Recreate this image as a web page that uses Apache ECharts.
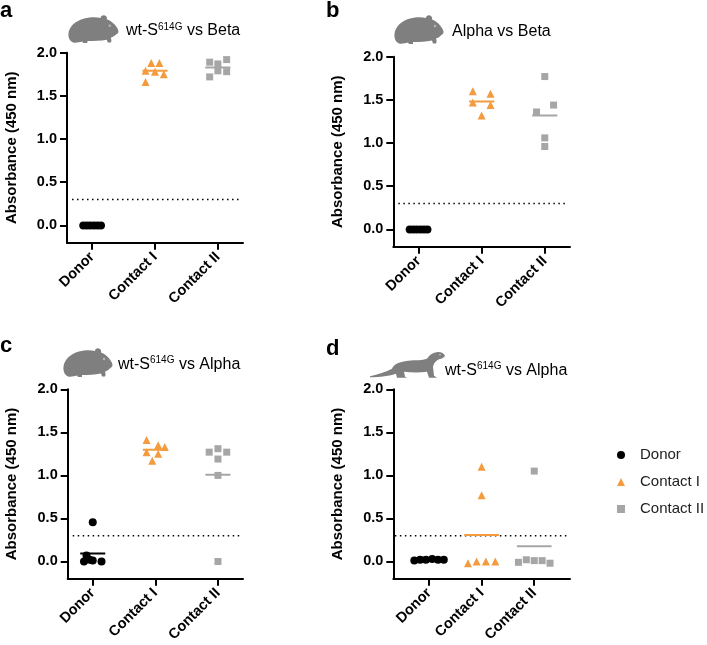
<!DOCTYPE html>
<html>
<head>
<meta charset="utf-8">
<script src="https://cdn.jsdelivr.net/npm/echarts@6/dist/echarts.min.js"></script>
<style>
  html, body { margin: 0; padding: 0; background: #fff; }
  #chart { width: 707px; height: 645px; }
</style>
</head>
<body>
<div id="chart"></div>
<script>
// ---------- data ----------
const categories = ['Donor', 'Contact I', 'Contact II'];
const yTicks = [0, 0.5, 1.0, 1.5, 2.0];
const cutoff = 0.3;

// panel a : wt-S614G vs Beta (hamster)
const aDonor     = [0.0, 0.0, 0.0, 0.0, 0.0, 0.0];
const aDonorX    = [-0.14, -0.085, -0.03, 0.03, 0.085, 0.14];
const aContact1  = [1.88, 1.88, 1.79, 1.78, 1.75, 1.66];
const aContact1X = [-0.06, 0.07, -0.15, 0.0, 0.14, -0.15];
const aContact2  = [1.89, 1.87, 1.92, 1.79, 1.78, 1.72];
const aContact2X = [-0.13, 0.0, 0.14, 0.0, 0.14, -0.13];

// panel b : Alpha vs Beta (hamster)
const bDonor     = [0.0, 0.0, 0.0, 0.0, 0.0, 0.0];
const bDonorX    = [-0.14, -0.085, -0.03, 0.03, 0.085, 0.14];
const bContact1  = [1.60, 1.57, 1.47, 1.44, 1.32];
const bContact1X = [-0.14, 0.14, -0.14, 0.14, 0.0];
const bContact2  = [1.77, 1.36, 1.44, 1.06, 0.96];
const bContact2X = [0.0, -0.13, 0.14, 0.0, 0.0];

// panel c : wt-S614G vs Alpha (hamster)
const cDonor     = [0.455, 0.07, 0.02, 0.0, 0.01, 0.0];
const cDonorX    = [0.0, -0.1, -0.05, -0.14, 0.0, 0.14];
const cContact1  = [1.41, 1.35, 1.33, 1.27, 1.25, 1.17];
const cContact1X = [-0.14, 0.045, 0.15, -0.14, 0.045, -0.05];
const cContact2  = [1.27, 1.31, 1.27, 1.19, 1.00, 0.0];
const cContact2X = [-0.14, 0.0, 0.14, 0.0, 0.0, 0.0];

// panel d : wt-S614G vs Alpha (ferret)
const dDonor     = [0.01, 0.02, 0.02, 0.03, 0.02, 0.02];
const dDonorX    = [-0.28, -0.17, -0.06, 0.06, 0.17, 0.28];
const dContact1  = [1.10, 0.77, -0.02, 0.0, 0.0, 0.0];
const dContact1X = [0.0, 0.0, -0.26, -0.095, 0.08, 0.26];
const dContact2  = [1.05, -0.01, 0.02, 0.01, 0.01, -0.02];
const dContact2X = [0.0, -0.3, -0.15, 0.0, 0.15, 0.3];

// ---------- layout / style ----------
const COLORS = ['#000000', '#F39B3E', '#A6A6A6'];
const SYMBOLS = ['circle', 'triangle', 'rect'];
const SIZES = [8, 8, 7];
const grids = [
  { left: 67,    top: 52.7,  width: 176,   height: 190 },
  { left: 393.3, top: 56.7,  width: 176.7, height: 190 },
  { left: 67.7,  top: 389.3, width: 175.3, height: 189.4 },
  { left: 393.3, top: 389.3, width: 176.7, height: 189.4 }
];
const xRanges = [[-0.4, 2.4], [-0.4, 2.4], [-0.4, 2.4], [-0.68, 2.68]];
const cutoffSpan = [[-0.32, 2.35], [-0.32, 2.35], [-0.32, 2.35], [-0.65, 2.62]];
const meanHalf = [0.2, 0.2, 0.2, 0.33];

const panels = [
  { vals: [aDonor, aContact1, aContact2], xs: [aDonorX, aContact1X, aContact2X] },
  { vals: [bDonor, bContact1, bContact2], xs: [bDonorX, bContact1X, bContact2X] },
  { vals: [cDonor, cContact1, cContact2], xs: [cDonorX, cContact1X, cContact2X] },
  { vals: [dDonor, dContact1, dContact2], xs: [dDonorX, dContact1X, dContact2X] }
];

const mean = arr => arr.reduce((s, v) => s + v, 0) / arr.length;

const FONT = 'Liberation Sans, Arial, sans-serif';
const xAxes = [], yAxes = [], series = [];
grids.forEach((g, i) => {
  xAxes.push({
    type: 'value', gridIndex: i, min: xRanges[i][0], max: xRanges[i][1],
    splitLine: { show: false },
    axisLine: { show: true, onZero: false, lineStyle: { color: '#000', width: 2 } },
    axisTick: { show: true, length: 7, lineStyle: { color: '#000', width: 2 }, customValues: [0, 1, 2] },
    axisLabel: {
      customValues: [0, 1, 2], rotate: 45, margin: 12,
      formatter: v => categories[Math.round(v)],
      fontFamily: FONT, fontWeight: 'bold', fontSize: 14.5, color: '#000'
    }
  });
  yAxes.push({
    type: 'value', gridIndex: i, min: -0.2, max: 2.0,
    name: 'Absorbance (450 nm)', nameLocation: 'middle', nameGap: 48,
    nameTextStyle: { fontFamily: FONT, fontWeight: 'bold', fontSize: 15, color: '#000' },
    splitLine: { show: false },
    axisLine: { show: true, onZero: false, lineStyle: { color: '#000', width: 2 } },
    axisTick: { show: true, length: 7, lineStyle: { color: '#000', width: 2 }, customValues: yTicks },
    axisLabel: {
      customValues: yTicks, margin: 10,
      formatter: v => v.toFixed(1),
      fontFamily: FONT, fontWeight: 'bold', fontSize: 14.5, color: '#000'
    }
  });
  series.push({
    type: 'line', xAxisIndex: i, yAxisIndex: i, silent: true, symbol: 'none', z: 1,
    data: [[cutoffSpan[i][0], cutoff], [cutoffSpan[i][1], cutoff]],
    lineStyle: { color: '#000', width: 1.5, type: [1.5, 3.5] }
  });
  panels[i].vals.forEach((vals, k) => {
    const m = mean(vals);
    series.push({
      type: 'line', xAxisIndex: i, yAxisIndex: i, silent: true, symbol: 'none', z: 2,
      data: [[k - meanHalf[i], m], [k + meanHalf[i], m]],
      lineStyle: { color: COLORS[k], width: 2 }
    });
    series.push({
      type: 'scatter', name: categories[k], xAxisIndex: i, yAxisIndex: i, z: 3,
      symbol: SYMBOLS[k], symbolSize: SIZES[k],
      itemStyle: { color: COLORS[k], opacity: 1 },
      data: vals.map((v, j) => [k + panels[i].xs[k][j], v])
    });
  });
});

// ---------- decorations ----------
const hamsterPath = 'M10,57 C3,54 0,46 1,38 C2,24 14,12 32,7 C44,4 56,4 64,6 C64,2 68,0 72,1 C76,2 77,6 76,9 C86,13 94,21 98,30 C100,34 99,38 95,40 C92,43 88,46 84,47 C85,50 86,54 84,57 L78,57 L76,51 C64,53 50,54 38,54 L38,58 L30,58 L28,55 C22,57 15,58 10,57 Z';
const ferretPath = 'M0,24.5 C8,23 16,20 22,17 C24,12 30,10 38,9 C46,8 52,9 57,7 C59,4 62,1 67,0.5 C71,0 74,2 75,4 C74,6 72,7 69,7.5 C66,9 64,11 63,15 L64,24 L67,26 L59,26 L57,20 C50,21 42,21 34,20 L35,25 L37,26 L27,26 L26,22 C20,24 10,25.5 0,25.5 Z';
const svgURI = (p, vw, vh, eye) => 'data:image/svg+xml;charset=utf-8,' + encodeURIComponent(
  '<svg xmlns="http://www.w3.org/2000/svg" viewBox="0 0 ' + vw + ' ' + vh + '" preserveAspectRatio="none" width="' + vw + '" height="' + vh + '"><path d="' + p + '" fill="#7F7F7F"/><circle cx="' + eye[0] + '" cy="' + eye[1] + '" r="' + eye[2] + '" fill="#B5B5B5"/></svg>');
const animal = (uri, x, y, w, h) => ({
  type: 'image', silent: true,
  style: { image: uri, x: x, y: y, width: w, height: h }
});
const letter = (t, x, y) => ({
  type: 'text', x: x, y: y,
  style: { text: t, fontFamily: FONT, fontWeight: 'bold', fontSize: 22, fill: '#000', align: 'left', verticalAlign: 'middle' }
});
const RICH = {
  n: { fontFamily: FONT, fontSize: 16, lineHeight: 18, fill: '#000', verticalAlign: 'middle' },
  s: { fontFamily: FONT, fontSize: 10, lineHeight: 10, fill: '#000', verticalAlign: 'top' }
};
const title = (t, x, y) => ({
  type: 'text', x: x, y: y,
  style: { text: t, rich: RICH, align: 'left', verticalAlign: 'middle' }
});
const hamsterURI = svgURI(hamsterPath, 100, 60, [82, 22, 2.5]);
const ferretURI = svgURI(ferretPath, 75, 27, [70, 3, 0.9]);

const option = {
  animation: false,
  backgroundColor: '#fff',
  grid: grids.map(g => Object.assign({ containLabel: false }, g)),
  xAxis: xAxes,
  yAxis: yAxes,
  series: series,
  legend: {
    data: categories, orient: 'vertical', left: 612, top: 441,
    itemWidth: 8, itemHeight: 8, itemGap: 9, selectedMode: false,
    textStyle: { fontFamily: FONT, fontSize: 15, color: '#222', lineHeight: 18, padding: [0, 0, 0, 10] }
  },
  graphic: [
    letter('a', 0, 11), letter('b', 326, 11), letter('c', 0, 346), letter('d', 326, 349),
    animal(hamsterURI, 68, 15, 51, 29),
    animal(hamsterURI, 394, 15, 50, 30),
    animal(hamsterURI, 63, 348, 50, 30),
    animal(ferretURI, 370, 351.7, 75, 27),
    title('{n|wt-S}{s|614G}{n| vs Beta}', 126, 31),
    title('{n|Alpha vs Beta}', 452, 32),
    title('{n|wt-S}{s|614G}{n| vs Alpha}', 118, 364.5),
    title('{n|wt-S}{s|614G}{n| vs Alpha}', 445, 370.5)
  ]
};

const chart = echarts.init(document.getElementById('chart'), null, { renderer: 'canvas' });
chart.setOption(option);
</script>
</body>
</html>
